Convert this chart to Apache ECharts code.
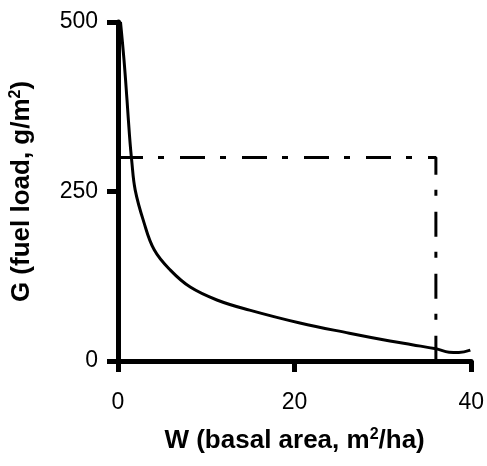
<!DOCTYPE html>
<html>
<head>
<meta charset="utf-8">
<script src="https://cdn.jsdelivr.net/npm/echarts@6/dist/echarts.min.js"></script>
<style>html,body{margin:0;padding:0;background:#fff}#c{width:487px;height:466px}</style>
</head>
<body>
<div id="c"></div>
<script>
var curveW = [0.28, 0.68, 1.02, 1.30, 1.55, 1.95, 2.9, 4.1, 5.93, 8.18, 11.2, 14.9, 20.6, 26.2, 30.8, 33.3, 36.0, 37.5, 38.6, 39.9];
var curveG = [500, 444, 385, 333, 296, 252, 206, 164, 134, 109, 90, 75, 56, 41, 29.5, 24, 18, 13, 12.5, 16];
var refW = [0, 36, 36];
var refG = [300, 300, 0];
var xTicks = [0, 20, 40];
var yTicks = [0, 250, 500];

var chart = echarts.init(document.getElementById('c'), null, {renderer: 'canvas'});
var font = 'Liberation Sans, Arial, Helvetica, sans-serif';
function pairs(a, b) { return a.map(function (v, i) { return [v, b[i]]; }); }
chart.setOption({
  animation: false,
  backgroundColor: '#fff',
  grid: {left: 118, right: 15, top: 22, bottom: 105, containLabel: false},
  xAxis: {
    type: 'value', min: xTicks[0], max: xTicks[xTicks.length - 1], interval: 20,
    name: '{t|W (basal area, m}{s|2}{t|/ha)}', nameLocation: 'middle', nameGap: 66,
    nameTextStyle: {rich: {
      t: {fontFamily: font, fontWeight: 'bold', fontSize: 26, color: '#000'},
      s: {fontFamily: font, fontWeight: 'bold', fontSize: 16, color: '#000', verticalAlign: 'top', padding: [0, 0, 12, 0]}
    }},
    axisLine: {show: true, onZero: false, lineStyle: {color: '#000', width: 5}},
    axisTick: {show: true, inside: false, length: 11, lineStyle: {color: '#000', width: 5}},
    axisLabel: {fontFamily: font, fontSize: 23, color: '#000', margin: 30},
    splitLine: {show: false}
  },
  yAxis: {
    type: 'value', min: yTicks[0], max: yTicks[yTicks.length - 1], interval: 250,
    name: '{t|G (fuel load, g/m}{s|2}{t|)}', nameLocation: 'middle', nameGap: 82, nameRotate: 90,
    nameTextStyle: {rich: {
      t: {fontFamily: font, fontWeight: 'bold', fontSize: 26, color: '#000'},
      s: {fontFamily: font, fontWeight: 'bold', fontSize: 16, color: '#000', verticalAlign: 'top', padding: [0, 0, 12, 0]}
    }},
    axisLine: {show: true, onZero: false, lineStyle: {color: '#000', width: 5}},
    axisTick: {show: true, inside: false, length: 11, lineStyle: {color: '#000', width: 5}},
    axisLabel: {fontFamily: font, fontSize: 23, color: '#000', margin: 20},
    splitLine: {show: false}
  },
  series: [
    {
      type: 'line', data: pairs(curveW, curveG), smooth: 0.4, symbol: 'none',
      lineStyle: {color: '#000', width: 3, join: 'round'}, z: 3
    },
    {
      type: 'line', data: pairs(refW, refG), smooth: false, symbol: 'none',
      lineStyle: {color: '#000', width: 3, type: [25, 15, 6, 16], cap: 'butt'}, z: 2
    }
  ]
});
</script>
</body>
</html>
